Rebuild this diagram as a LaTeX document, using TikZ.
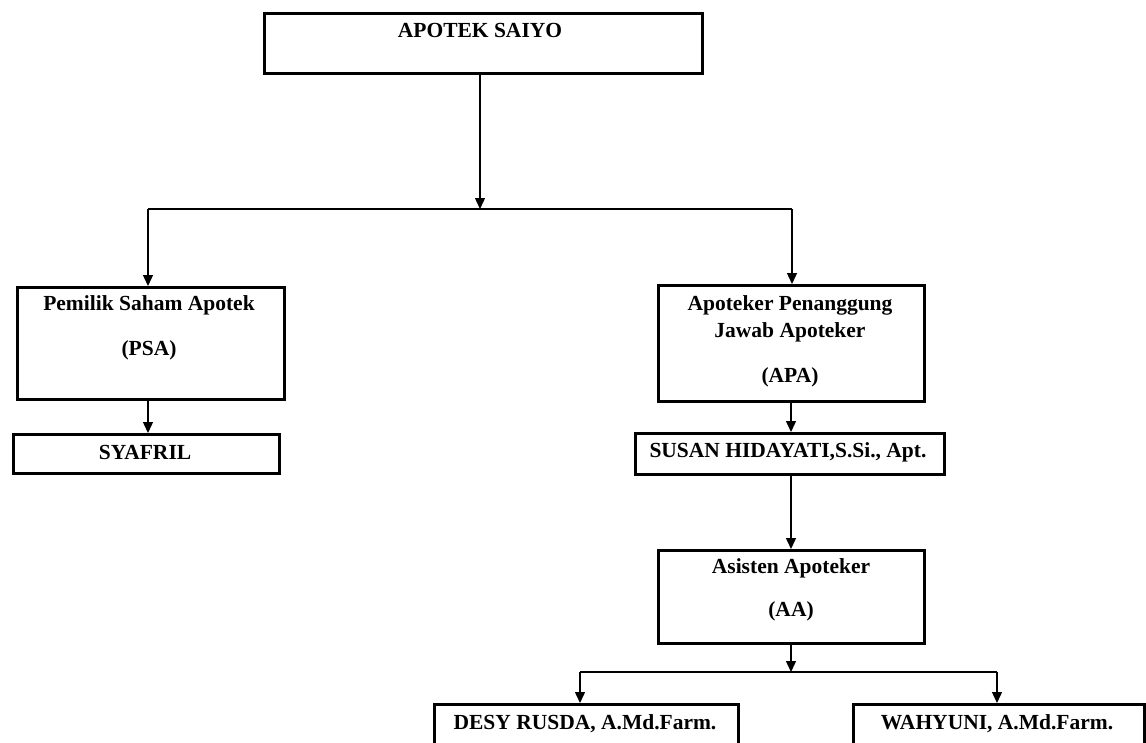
\documentclass[tikz,border=0pt]{standalone}
\usepackage{fontspec}
\setmainfont{Liberation Serif}
\usetikzlibrary{arrows.meta}
\begin{document}
\begin{tikzpicture}[x=1pt,y=-1pt,
  box/.style={draw=black,line width=3pt,rectangle,inner sep=0pt,anchor=north west},
  lbl/.style={font=\fontsize{21.5}{23}\selectfont\bfseries,inner sep=0pt,anchor=center},
  conn/.style={draw=black,line width=1.4pt,-{Triangle[length=11pt,width=10pt]}},
  plain/.style={draw=black,line width=1.4pt}]
\useasboundingbox (0,0) rectangle (1146,742);
\clip (0,0) rectangle (1146,742);
\fill[white] (0,0) rectangle (1146,742);

% boxes
\node[box,minimum width=438pt,minimum height=60pt] (top) at (263,12) {};
\node[box,minimum width=267pt,minimum height=112pt] (psa) at (16,286) {};
\node[box,minimum width=266pt,minimum height=39pt] (syafril) at (12,433) {};
\node[box,minimum width=266pt,minimum height=116pt] (apa) at (657,284) {};
\node[box,minimum width=309pt,minimum height=41pt] (susan) at (634,432) {};
\node[box,minimum width=266pt,minimum height=93pt] (aa) at (657,549) {};
\node[box,minimum width=304pt,minimum height=60pt] (desy) at (433,703) {};
\node[box,minimum width=291pt,minimum height=60pt] (wahyuni) at (852,703) {};

% labels
\node[lbl] (ttop) at (480,30) {APOTEK SAIYO};
\node[lbl] (tpsa1) at (149,305) {Pemilik Saham Apotek};
\node[lbl] (tpsa2) at (149,350) {(PSA)};
\node[lbl] (tsya) at (145,452) {SYAFRIL};
\node[lbl] (tapa1) at (790,305) {Apoteker Penanggung};
\node[lbl] (tapa2) at (790,332) {Jawab Apoteker};
\node[lbl] (tapa3) at (790,377) {(APA)};
\node[lbl] (tsus) at (788,452) {SUSAN HIDAYATI,S.Si., Apt.};
\node[lbl] (taa1) at (791,568) {Asisten Apoteker};
\node[lbl] (taa2) at (791,611) {(AA)};
\node[lbl] (tdesy) at (585,724) {DESY RUSDA, A.Md.Farm.};
\node[lbl] (twah) at (997,724) {WAHYUNI, A.Md.Farm.};

% junction coordinates
\coordinate (j1) at (480,209);
\coordinate (j1l) at (148,209);
\coordinate (j1r) at (792,209);
\coordinate (j2) at (791,672);
\coordinate (j2l) at (580,672);
\coordinate (j2r) at (997,672);

% connectors
\draw[conn] (top.south -| j1) -- (j1);
\draw[plain] (j1l) -- (j1r);
\draw[conn] (j1l) -- (j1l |- psa.north);
\draw[conn] (j1r) -- (j1r |- apa.north);
\draw[conn] (psa.south -| j1l) -- (j1l |- syafril.north);
\draw[conn] (apa.south -| 791,0) -- (791,0 |- susan.north);
\draw[conn] (susan.south -| 791,0) -- (791,0 |- aa.north);
\draw[conn] (aa.south -| j2) -- (j2);
\draw[plain] (j2l) -- (j2r);
\draw[conn] (j2l) -- (j2l |- desy.north);
\draw[conn] (j2r) -- (j2r |- wahyuni.north);
\end{tikzpicture}
\end{document}
